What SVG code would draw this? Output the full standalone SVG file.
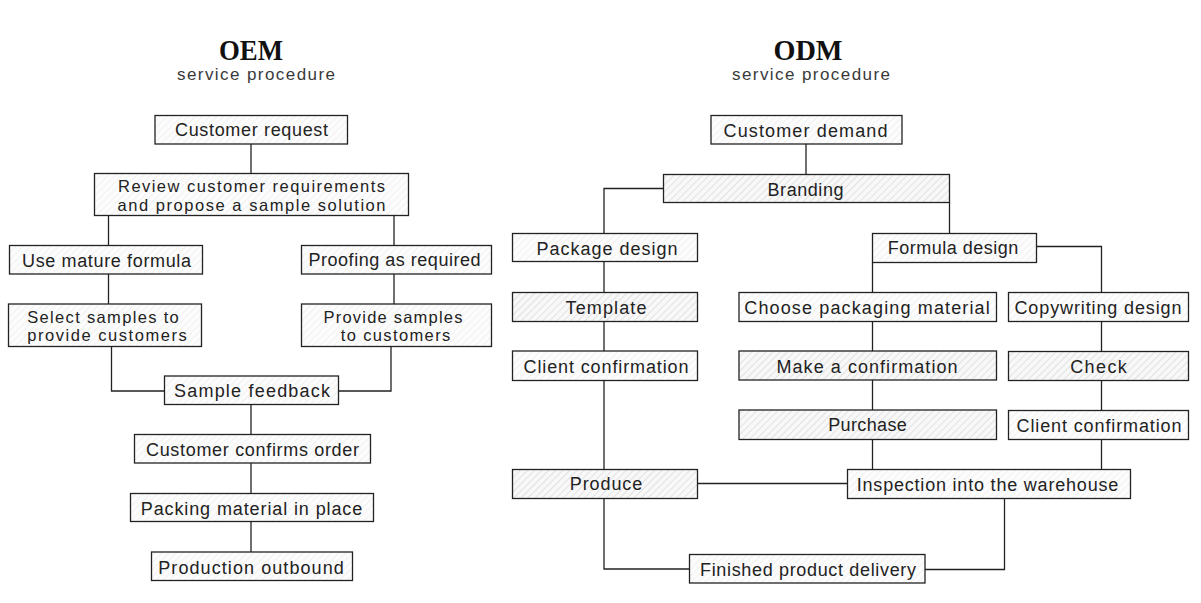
<svg xmlns="http://www.w3.org/2000/svg" width="1201" height="603" viewBox="0 0 1201 603">
<defs>
<pattern id="hf" width="5" height="5" patternUnits="userSpaceOnUse" patternTransform="rotate(45)">
<rect width="5" height="5" fill="#fcfcfc"/>
<line x1="0" y1="0" x2="0" y2="5" stroke="#ebebeb" stroke-width="1.2"/>
</pattern>
<pattern id="hs" width="5" height="5" patternUnits="userSpaceOnUse" patternTransform="rotate(45)">
<rect width="5" height="5" fill="#f8f8f8"/>
<line x1="0" y1="0" x2="0" y2="5" stroke="#d6d6d6" stroke-width="1.3"/>
</pattern>
</defs>
<style>
rect.f{fill:url(#hf);stroke:#222;stroke-width:1.3}
rect.s{fill:url(#hs);stroke:#222;stroke-width:1.3}
text{font-family:"Liberation Sans",Arial,sans-serif;font-size:18px;fill:#222;text-anchor:middle}
text.m{font-size:16.5px}
text.t{font-family:"Liberation Serif","Times New Roman",serif;font-weight:bold;font-size:30px;fill:#111}
text.sub{font-size:17px;fill:#3a3a3a}
#conn path{fill:none;stroke:#222;stroke-width:1.3}
</style>
<rect width="1201" height="603" fill="#ffffff"/>

<g id="titles">
<text class="t" x="251" y="60" textLength="64" lengthAdjust="spacingAndGlyphs">OEM</text>
<text class="sub" x="256" y="80" textLength="158" lengthAdjust="spacing">service procedure</text>
<text class="t" x="808" y="60" textLength="69" lengthAdjust="spacingAndGlyphs">ODM</text>
<text class="sub" x="811" y="80" textLength="158" lengthAdjust="spacing">service procedure</text>
</g>

<g id="conn">
<path d="M251 144 V174"/>
<path d="M108.5 215.5 V245.5"/>
<path d="M394 215.5 V245.5"/>
<path d="M108.5 274 V304"/>
<path d="M394 274 V304"/>
<path d="M111.5 347 V391 H165"/>
<path d="M391 347 V391 H338.5"/>
<path d="M251 404.5 V435"/>
<path d="M251 463 V493.5"/>
<path d="M251 521.5 V552"/>

<path d="M806 144 V175"/>
<path d="M663.5 188.5 H604 V233.5"/>
<path d="M949.5 202.5 V233.5"/>
<path d="M1036.5 246.5 H1101.5 V292.5"/>
<path d="M872.5 262.5 V292.5"/>
<path d="M604 261.5 V292.5"/>
<path d="M604 321.5 V351"/>
<path d="M604 380.5 V469.5"/>
<path d="M872.5 321.5 V351"/>
<path d="M872.5 380 V410"/>
<path d="M872.5 439.5 V469.5"/>
<path d="M1101.5 321.5 V351.5"/>
<path d="M1101.5 380.5 V410.5"/>
<path d="M1101.5 439.5 V469.5"/>
<path d="M697.5 483.5 H847.5"/>
<path d="M604 498.5 V569 H689.5"/>
<path d="M1004.5 498.5 V569.5 H925"/>
</g>

<g id="customer-request"><rect class="f" x="155" y="115.5" width="192.5" height="28.5"/><text x="251.5" y="136" textLength="153" lengthAdjust="spacing">Customer request</text></g>
<g id="review"><rect class="f" x="94.5" y="173.5" width="314" height="42"/><text class="m" x="251.5" y="192" textLength="267" lengthAdjust="spacing">Review customer requirements</text><text class="m" x="251.5" y="210.5" textLength="268" lengthAdjust="spacing">and propose a sample solution</text></g>
<g id="use-mature"><rect class="f" x="9.5" y="245.5" width="193" height="28.5"/><text x="106.5" y="266.5" textLength="169" lengthAdjust="spacing">Use mature formula</text></g>
<g id="proofing"><rect class="f" x="301.5" y="245.5" width="190" height="28.5"/><text x="394.5" y="266" textLength="172" lengthAdjust="spacing">Proofing as required</text></g>
<g id="select-samples"><rect class="f" x="8.5" y="304" width="193" height="42.5"/><text class="m" x="103" y="322.5" textLength="151.5" lengthAdjust="spacing">Select samples to</text><text class="m" x="107" y="341" textLength="159.5" lengthAdjust="spacing">provide customers</text></g>
<g id="provide-samples"><rect class="f" x="301.5" y="304" width="190" height="42.5"/><text class="m" x="393" y="322.5" textLength="139" lengthAdjust="spacing">Provide samples</text><text class="m" x="395.5" y="341" textLength="109.5" lengthAdjust="spacing">to customers</text></g>
<g id="sample-feedback"><rect class="f" x="164.5" y="376" width="174" height="28.5"/><text x="252" y="397" textLength="156" lengthAdjust="spacing">Sample feedback</text></g>
<g id="customer-confirms"><rect class="f" x="134.5" y="434.5" width="236" height="28.5"/><text x="252.5" y="456" textLength="213" lengthAdjust="spacing">Customer confirms order</text></g>
<g id="packing"><rect class="f" x="130.5" y="493.5" width="243" height="28"/><text x="251.5" y="514.5" textLength="221.5" lengthAdjust="spacing">Packing material in place</text></g>
<g id="production-outbound"><rect class="f" x="151.5" y="552" width="201" height="28.5"/><text x="251" y="573.5" textLength="185.5" lengthAdjust="spacing">Production outbound</text></g>

<g id="customer-demand"><rect class="f" x="711" y="115.5" width="191" height="28.5"/><text x="805.5" y="136.5" textLength="164" lengthAdjust="spacing">Customer demand</text></g>
<g id="branding"><rect class="s" x="663.5" y="174.5" width="286" height="28"/><text x="805.5" y="195.5" textLength="76" lengthAdjust="spacing">Branding</text></g>
<g id="package-design"><rect class="f" x="512.5" y="233.5" width="185" height="28"/><text x="607" y="254.5" textLength="141" lengthAdjust="spacing">Package design</text></g>
<g id="formula-design"><rect class="f" x="872.5" y="233.5" width="164" height="29"/><text x="953" y="254" textLength="130.5" lengthAdjust="spacing">Formula design</text></g>
<g id="template"><rect class="s" x="512.5" y="292.5" width="185" height="29"/><text x="606" y="313.5" textLength="81" lengthAdjust="spacing">Template</text></g>
<g id="choose-packaging"><rect class="f" x="739" y="292.5" width="257.5" height="29"/><text x="867" y="313.5" textLength="245.5" lengthAdjust="spacing">Choose packaging material</text></g>
<g id="copywriting"><rect class="f" x="1008.5" y="292.5" width="180" height="29"/><text x="1098" y="313.5" textLength="167" lengthAdjust="spacing">Copywriting design</text></g>
<g id="client-confirmation-1"><rect class="f" x="512.5" y="351" width="185" height="29.5"/><text x="606" y="372.5" textLength="165" lengthAdjust="spacing">Client confirmation</text></g>
<g id="make-confirmation"><rect class="s" x="739" y="351" width="257.5" height="29"/><text x="867" y="372.5" textLength="181" lengthAdjust="spacing">Make a confirmation</text></g>
<g id="check"><rect class="s" x="1008.5" y="351.5" width="180" height="29"/><text x="1098.5" y="372.5" textLength="56.5" lengthAdjust="spacing">Check</text></g>
<g id="purchase"><rect class="s" x="739" y="410" width="257.5" height="29.5"/><text x="867.5" y="431" textLength="78.5" lengthAdjust="spacing">Purchase</text></g>
<g id="client-confirmation-2"><rect class="f" x="1008.5" y="410.5" width="180" height="29"/><text x="1099" y="431.5" textLength="165" lengthAdjust="spacing">Client confirmation</text></g>
<g id="produce"><rect class="s" x="512.5" y="469.5" width="185" height="29"/><text x="606" y="490" textLength="72.5" lengthAdjust="spacing">Produce</text></g>
<g id="inspection"><rect class="f" x="847.5" y="469.5" width="283" height="29"/><text x="987.5" y="491" textLength="261.5" lengthAdjust="spacing">Inspection into the warehouse</text></g>
<g id="finished-delivery"><rect class="f" x="689.5" y="554.5" width="235.5" height="28.5"/><text x="808" y="576" textLength="216" lengthAdjust="spacing">Finished product delivery</text></g>
</svg>
